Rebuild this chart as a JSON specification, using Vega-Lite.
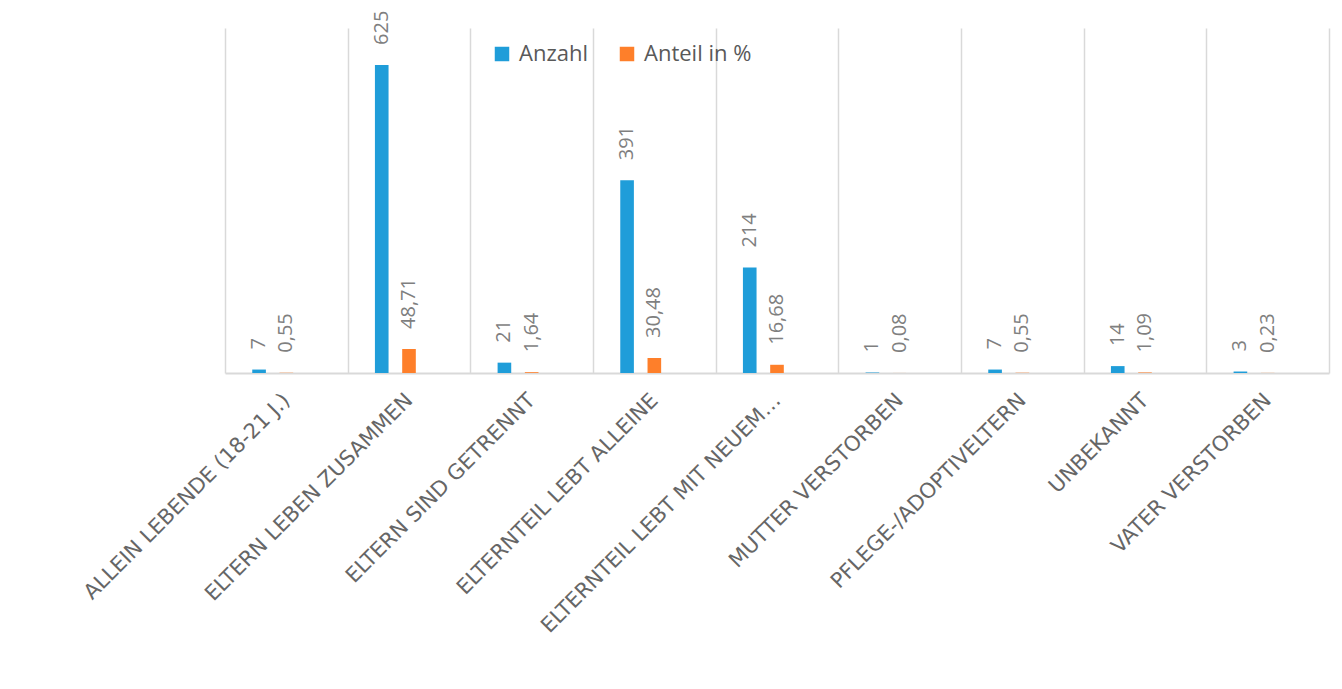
{
  "$schema": "https://vega.github.io/schema/vega-lite/v6.json",
  "width": 1104,
  "height": 345,
  "autosize": {"type": "none"},
  "padding": {"left": 225, "top": 28, "right": 13, "bottom": 316},
  "config": {
    "view": {"stroke": null},
    "locale": {"number": {"decimal": ",", "thousands": ".", "grouping": [3], "currency": ["", " €"]}}
  },
  "data": {
    "values": [
      {"kategorie": "ALLEIN LEBENDE (18-21 J.)", "serie": "Anzahl", "wert": 7},
      {"kategorie": "ALLEIN LEBENDE (18-21 J.)", "serie": "Anteil in %", "wert": 0.55},
      {"kategorie": "ELTERN LEBEN ZUSAMMEN", "serie": "Anzahl", "wert": 625},
      {"kategorie": "ELTERN LEBEN ZUSAMMEN", "serie": "Anteil in %", "wert": 48.71},
      {"kategorie": "ELTERN SIND GETRENNT", "serie": "Anzahl", "wert": 21},
      {"kategorie": "ELTERN SIND GETRENNT", "serie": "Anteil in %", "wert": 1.64},
      {"kategorie": "ELTERNTEIL LEBT ALLEINE", "serie": "Anzahl", "wert": 391},
      {"kategorie": "ELTERNTEIL LEBT ALLEINE", "serie": "Anteil in %", "wert": 30.48},
      {"kategorie": "ELTERNTEIL LEBT MIT NEUEM…", "serie": "Anzahl", "wert": 214},
      {"kategorie": "ELTERNTEIL LEBT MIT NEUEM…", "serie": "Anteil in %", "wert": 16.68},
      {"kategorie": "MUTTER VERSTORBEN", "serie": "Anzahl", "wert": 1},
      {"kategorie": "MUTTER VERSTORBEN", "serie": "Anteil in %", "wert": 0.08},
      {"kategorie": "PFLEGE-/ADOPTIVELTERN", "serie": "Anzahl", "wert": 7},
      {"kategorie": "PFLEGE-/ADOPTIVELTERN", "serie": "Anteil in %", "wert": 0.55},
      {"kategorie": "UNBEKANNT", "serie": "Anzahl", "wert": 14},
      {"kategorie": "UNBEKANNT", "serie": "Anteil in %", "wert": 1.09},
      {"kategorie": "VATER VERSTORBEN", "serie": "Anzahl", "wert": 3},
      {"kategorie": "VATER VERSTORBEN", "serie": "Anteil in %", "wert": 0.23}
    ]
  },
  "encoding": {
    "x": {
      "field": "kategorie",
      "type": "nominal",
      "sort": null,
      "scale": {"paddingInner": 0, "paddingOuter": 0},
      "axis": {
        "title": null,
        "domain": true,
        "domainColor": "#d9d9d9",
        "domainWidth": 2,
        "ticks": false,
        "grid": true,
        "gridColor": "#d9d9d9",
        "gridWidth": 1.5,
        "tickBand": "extent",
        "labelAngle": -45,
        "labelAlign": "right",
        "labelBaseline": "middle",
        "labelFont": "DejaVu Sans",
        "labelFontSize": 21,
        "labelColor": "#666666",
        "labelPadding": 24,
        "labelLimit": 0
      }
    },
    "xOffset": {
      "field": "serie",
      "type": "nominal",
      "scale": {"domain": ["Anzahl", "Anteil in %", "leer"], "paddingInner": 0.5, "paddingOuter": 1.2}
    },
    "y": {
      "field": "wert",
      "type": "quantitative",
      "scale": {"domain": [0, 700]},
      "axis": null
    }
  },
  "layer": [
    {
      "mark": {"type": "bar"},
      "encoding": {
        "color": {
          "field": "serie",
          "type": "nominal",
          "scale": {"domain": ["Anzahl", "Anteil in %"], "range": ["#1f9dd9", "#fe7f2a"]},
          "legend": {
            "orient": "none",
            "legendX": 266,
            "legendY": 15,
            "direction": "horizontal",
            "title": null,
            "symbolType": "square",
            "symbolSize": 210,
            "symbolStrokeWidth": 0,
            "labelFont": "Open Sans",
            "labelFontSize": 22,
            "labelColor": "#595959",
            "labelOffset": 6,
            "columnPadding": 28
          }
        }
      }
    },
    {
      "mark": {"type": "text", "angle": 270, "align": "left", "baseline": "middle", "dx": 20, "font": "Open Sans", "fontSize": 20, "color": "#7f7f7f"},
      "encoding": {
        "text": {"field": "wert", "type": "quantitative", "format": ".2~f"}
      }
    }
  ]
}
